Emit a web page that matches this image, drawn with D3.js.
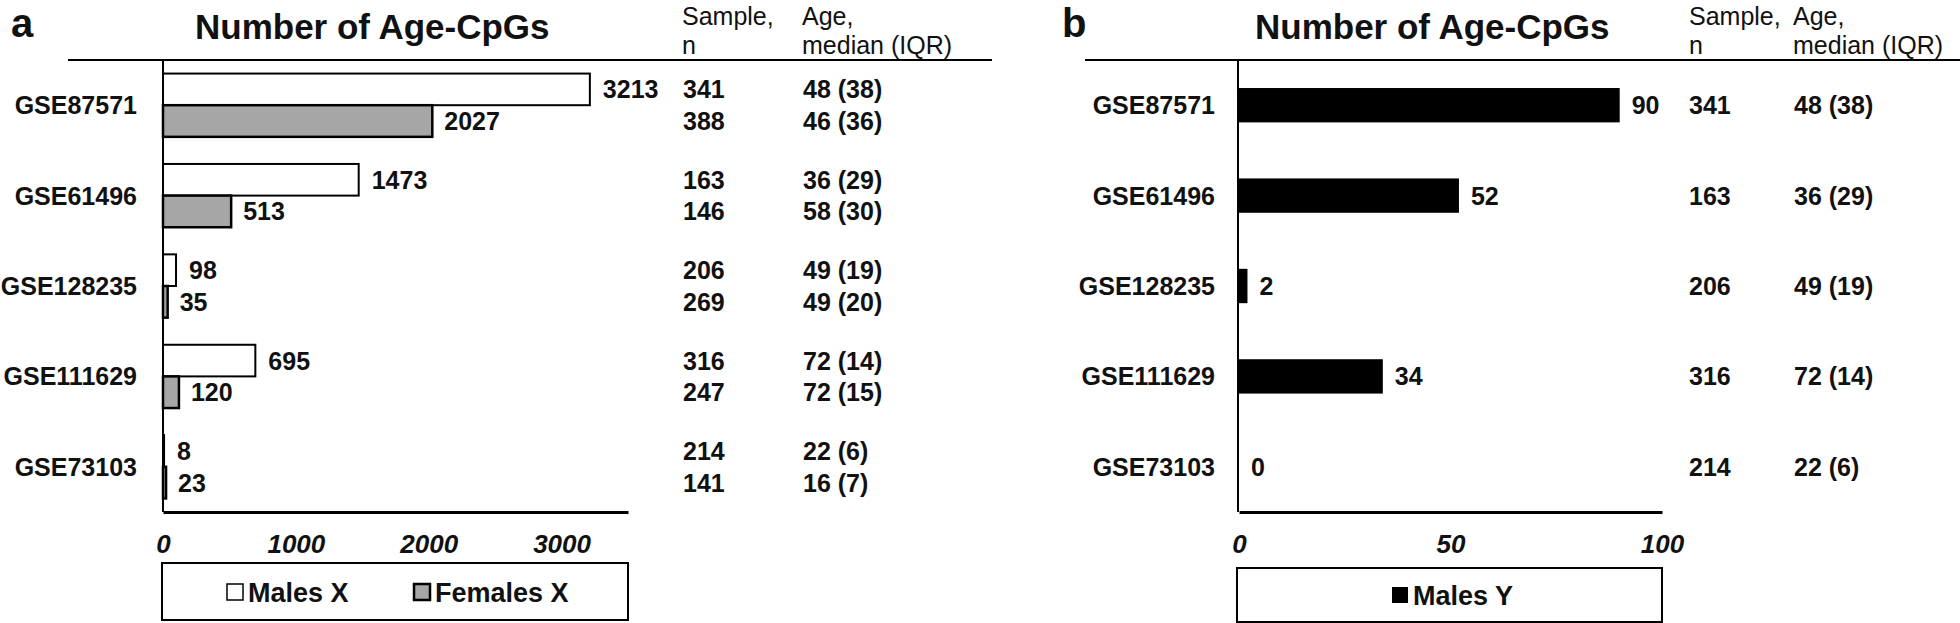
<!DOCTYPE html>
<html>
<head>
<meta charset="utf-8">
<script src="https://cdn.jsdelivr.net/npm/d3@7"></script>
<style>
  html, body { margin: 0; padding: 0; background: #fff; }
  svg { display: block; font-family: "Liberation Sans", Arial, sans-serif; }
</style>
</head>
<body>
<svg id="chart" width="1960" height="623"></svg>
<script>
const categories = ["GSE87571", "GSE61496", "GSE128235", "GSE111629", "GSE73103"];
const malesX = [3213, 1473, 98, 695, 8];
const femalesX = [2027, 513, 35, 120, 23];
const malesY = [90, 52, 2, 34, 0];
const sampleMale = [341, 163, 206, 316, 214];
const sampleFemale = [388, 146, 269, 247, 141];
const ageMale = ["48 (38)", "36 (29)", "49 (19)", "72 (14)", "22 (6)"];
const ageFemale = ["46 (36)", "58 (30)", "49 (20)", "72 (15)", "16 (7)"];
const ticksA = [0, 1000, 2000, 3000];
const ticksB = [0, 50, 100];
const seriesA = ["Males X", "Females X"];
const seriesB = ["Males Y"];

const svg = d3.select("#chart");
const TOP = 60, BOTTOM = 512;

function header(g, xSample, xAge) {
  const t = g.append("g").attr("font-size", 25).attr("fill", "#111");
  t.append("text").attr("x", xSample).attr("y", 25).text("Sample,");
  t.append("text").attr("x", xSample).attr("y", 54).text("n");
  t.append("text").attr("x", xAge).attr("y", 25).text("Age,");
  t.append("text").attr("x", xAge).attr("y", 54).text("median (IQR)");
}

function styleAxis(sel) {
  sel.select(".domain").attr("stroke", "#000");
  sel.selectAll("text").attr("fill", "#111").attr("font-weight", "bold");
}

/* ---------------- Panel a ---------------- */
const gA = svg.append("g");
const xA = d3.scaleLinear().domain([0, 3500]).range([163, 628]);
const yA = d3.scaleBand().domain(categories).range([TOP, BOTTOM]).paddingInner(0.3).paddingOuter(0.15);
const subA = d3.scaleBand().domain(seriesA).range([0, yA.bandwidth()]);

gA.append("text").attr("x", 11).attr("y", 37).attr("font-size", 40).attr("font-weight", "bold").attr("fill", "#111").text("a");
gA.append("text").attr("x", 195).attr("y", 39).attr("font-size", 35).attr("font-weight", "bold").attr("fill", "#111").text("Number of Age-CpGs");
header(gA, 682, 802);
gA.append("line").attr("x1", 68).attr("x2", 992).attr("y1", TOP).attr("y2", TOP).attr("stroke", "#000").attr("stroke-width", 2);

const rowsA = gA.selectAll("g.row").data(categories).join("g").attr("class", "row");
rowsA.append("rect")
  .attr("x", xA(0)).attr("y", (d, i) => yA(d) + subA("Males X"))
  .attr("width", (d, i) => xA(malesX[i]) - xA(0)).attr("height", subA.bandwidth())
  .attr("fill", "#fff").attr("stroke", "#000").attr("stroke-width", 2);
rowsA.append("rect")
  .attr("x", xA(0)).attr("y", (d, i) => yA(d) + subA("Females X"))
  .attr("width", (d, i) => xA(femalesX[i]) - xA(0)).attr("height", subA.bandwidth())
  .attr("fill", "#a6a6a6").attr("stroke", "#000").attr("stroke-width", 2.5);

const lblA = rowsA.append("g").attr("font-size", 25).attr("font-weight", "bold").attr("fill", "#111");
lblA.append("text").attr("x", (d, i) => xA(malesX[i]) + 13).attr("y", d => yA(d) + subA("Males X") + subA.bandwidth() / 2).attr("dy", "0.36em").text((d, i) => malesX[i]);
lblA.append("text").attr("x", (d, i) => xA(femalesX[i]) + 12).attr("y", d => yA(d) + subA("Females X") + subA.bandwidth() / 2).attr("dy", "0.36em").text((d, i) => femalesX[i]);
lblA.append("text").attr("x", 683).attr("y", d => yA(d) + subA("Males X") + subA.bandwidth() / 2).attr("dy", "0.36em").text((d, i) => sampleMale[i]);
lblA.append("text").attr("x", 683).attr("y", d => yA(d) + subA("Females X") + subA.bandwidth() / 2).attr("dy", "0.36em").text((d, i) => sampleFemale[i]);
lblA.append("text").attr("x", 803).attr("y", d => yA(d) + subA("Males X") + subA.bandwidth() / 2).attr("dy", "0.36em").text((d, i) => ageMale[i]);
lblA.append("text").attr("x", 803).attr("y", d => yA(d) + subA("Females X") + subA.bandwidth() / 2).attr("dy", "0.36em").text((d, i) => ageFemale[i]);

const yAxisA = gA.append("g").attr("transform", `translate(${xA(0)},0)`)
  .call(d3.axisLeft(yA).tickSize(0).tickPadding(26).tickSizeOuter(0));
yAxisA.selectAll("text").attr("font-size", 25).attr("dy", "0.36em");
styleAxis(yAxisA);
yAxisA.select(".domain").attr("stroke-width", 2).attr("d", `M0,${TOP}V${BOTTOM}`);

const xAxisA = gA.append("g").attr("transform", `translate(0,${BOTTOM})`)
  .call(d3.axisBottom(xA).tickValues(ticksA).tickFormat(d3.format("d")).tickSize(0).tickPadding(23).tickSizeOuter(0));
xAxisA.selectAll("text").attr("font-size", 26).attr("font-style", "italic");
styleAxis(xAxisA);
xAxisA.select(".domain").attr("stroke-width", 3);

const legA = gA.append("g");
legA.append("rect").attr("x", 162).attr("y", 563).attr("width", 466).attr("height", 57).attr("fill", "#fff").attr("stroke", "#000").attr("stroke-width", 2);
const legAItems = [
  { name: seriesA[0], fill: "#fff", sx: 227, sw: 1.5 },
  { name: seriesA[1], fill: "#a6a6a6", sx: 414, sw: 2.5 }
];
legAItems.forEach(it => {
  legA.append("rect").attr("x", it.sx).attr("y", 584).attr("width", 16).attr("height", 16).attr("fill", it.fill).attr("stroke", "#000").attr("stroke-width", it.sw);
  legA.append("text").attr("x", it.sx + 21).attr("y", 592).attr("dy", "0.36em").attr("font-size", 27).attr("font-weight", "bold").attr("fill", "#111").text(it.name);
});

/* ---------------- Panel b ---------------- */
const gB = svg.append("g");
const xB = d3.scaleLinear().domain([0, 100]).range([1239, 1662]);
const yB = d3.scaleBand().domain(categories).range([TOP, BOTTOM]).paddingInner(0.62).paddingOuter(0.31);

gB.append("text").attr("x", 1062).attr("y", 37).attr("font-size", 40).attr("font-weight", "bold").attr("fill", "#111").text("b");
gB.append("text").attr("x", 1255).attr("y", 39).attr("font-size", 35).attr("font-weight", "bold").attr("fill", "#111").text("Number of Age-CpGs");
header(gB, 1689, 1793);
gB.append("line").attr("x1", 1085).attr("x2", 1960).attr("y1", TOP).attr("y2", TOP).attr("stroke", "#000").attr("stroke-width", 2);

const rowsB = gB.selectAll("g.row").data(categories).join("g").attr("class", "row");
rowsB.append("rect")
  .attr("x", xB(0)).attr("y", d => yB(d))
  .attr("width", (d, i) => xB(malesY[i]) - xB(0)).attr("height", yB.bandwidth())
  .attr("fill", "#000");
const lblB = rowsB.append("g").attr("font-size", 25).attr("font-weight", "bold").attr("fill", "#111");
lblB.append("text").attr("x", (d, i) => xB(malesY[i]) + 12).attr("y", d => yB(d) + yB.bandwidth() / 2).attr("dy", "0.36em").text((d, i) => malesY[i]);
lblB.append("text").attr("x", 1689).attr("y", d => yB(d) + yB.bandwidth() / 2).attr("dy", "0.36em").text((d, i) => sampleMale[i]);
lblB.append("text").attr("x", 1794).attr("y", d => yB(d) + yB.bandwidth() / 2).attr("dy", "0.36em").text((d, i) => ageMale[i]);

const yAxisB = gB.append("g").attr("transform", `translate(${xB(0) - 1},0)`)
  .call(d3.axisLeft(yB).tickSize(0).tickPadding(23).tickSizeOuter(0));
yAxisB.selectAll("text").attr("font-size", 25).attr("dy", "0.36em");
styleAxis(yAxisB);
yAxisB.select(".domain").attr("stroke-width", 2).attr("d", `M0,${TOP}V${BOTTOM}`);

const xAxisB = gB.append("g").attr("transform", `translate(0,${BOTTOM})`)
  .call(d3.axisBottom(xB).tickValues(ticksB).tickFormat(d3.format("d")).tickSize(0).tickPadding(23).tickSizeOuter(0));
xAxisB.selectAll("text").attr("font-size", 26).attr("font-style", "italic");
styleAxis(xAxisB);
xAxisB.select(".domain").attr("stroke-width", 3);

const legB = gB.append("g");
legB.append("rect").attr("x", 1237).attr("y", 568).attr("width", 425).attr("height", 54).attr("fill", "#fff").attr("stroke", "#000").attr("stroke-width", 2);
legB.append("rect").attr("x", 1392).attr("y", 587).attr("width", 16).attr("height", 16).attr("fill", "#000");
legB.append("text").attr("x", 1413).attr("y", 595).attr("dy", "0.36em").attr("font-size", 27).attr("font-weight", "bold").attr("fill", "#111").text(seriesB[0]);
</script>
</body>
</html>
